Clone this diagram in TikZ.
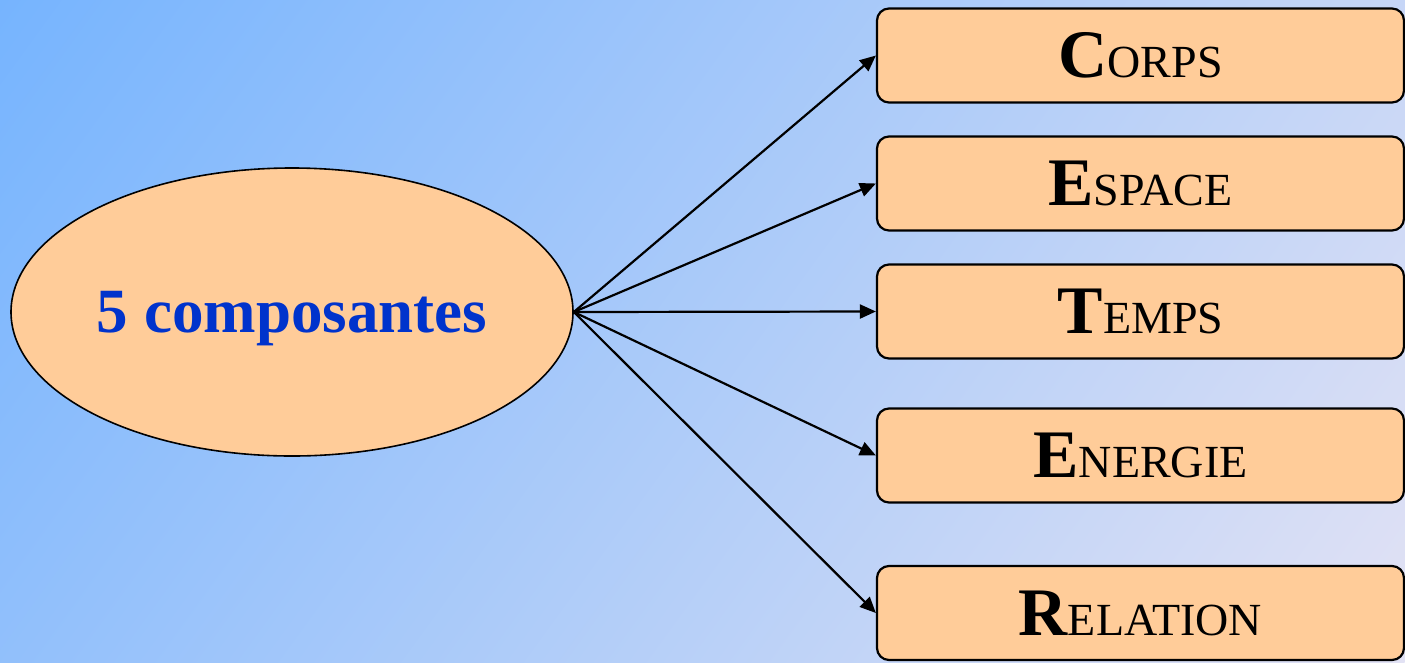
\documentclass[tikz,border=0pt]{standalone}
\usepackage{fontspec}
\setmainfont{Liberation Serif}
\usetikzlibrary{shapes.geometric,arrows.meta}
\definecolor{bgA}{RGB}{118,180,254}
\definecolor{bgB}{RGB}{226,226,244}
\definecolor{peach}{RGB}{255,204,153}
\definecolor{tblue}{RGB}{0,51,204}
\newcommand{\BigL}[1]{{\fontsize{68}{70}\selectfont\bfseries #1}}
\newcommand{\SmallL}[1]{{\fontsize{46}{48}\selectfont #1}}
\tikzset{
  compbox/.style={draw=black, line width=2.2pt, fill=peach, rounded corners=12pt,
    minimum width=527pt, minimum height=94pt, inner sep=0pt, text=black},
  mainell/.style={ellipse, draw=black, line width=1.6pt, fill=peach,
    minimum width=562pt, minimum height=288pt, inner sep=0pt, text depth=0pt,
    text=tblue, font=\fontsize{63}{66}\selectfont\bfseries},
  arr/.style={line width=2.2pt, -{Triangle[length=16pt,width=14pt]}, shorten >=0pt}
}
\begin{document}
\begin{tikzpicture}[x=1pt,y=-1pt]
\useasboundingbox (0,0) rectangle (1405,662);
\begin{scope}
  \clip (0,0) rectangle (1405,662);
  \begin{scope}[transform canvas={rotate=-36}]
    \shade[left color=bgA, right color=bgB] (0,-1000) rectangle (1526,1000);
  \end{scope}
\end{scope}
\node[mainell] (ell) at (292,312) {5 composantes};
\node[compbox] (b1) at (1140.5,55.5) {\raisebox{-3pt}{\BigL{C}\SmallL{ORPS}}};
\node[compbox] (b2) at (1140.5,183.5) {\raisebox{-3pt}{\BigL{E}\SmallL{SPACE}}};
\node[compbox] (b3) at (1140.5,311.5) {\raisebox{-3pt}{\BigL{T}\SmallL{EMPS}}};
\node[compbox] (b4) at (1140.5,455.5) {\raisebox{-3pt}{\BigL{E}\SmallL{NERGIE}}};
\node[compbox] (b5) at (1140.5,613) {\raisebox{-3pt}{\BigL{R}\SmallL{ELATION}}};
\foreach \b in {b1,b2,b3,b4,b5}
  \draw[arr] (ell.east) -- (\b.west);
\end{tikzpicture}
\end{document}
